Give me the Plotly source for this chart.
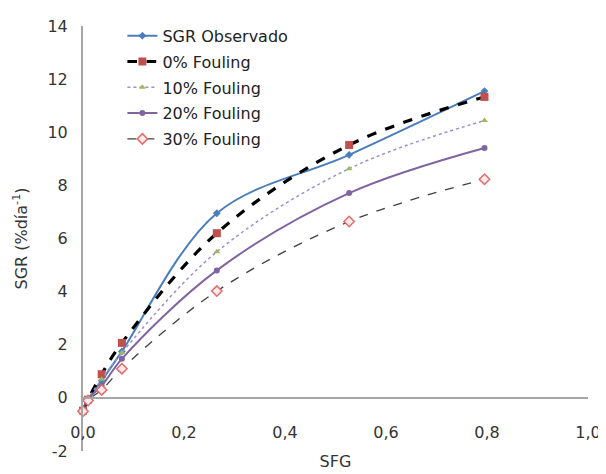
import plotly.graph_objects as go

sfg = [0.0, 0.01, 0.037, 0.077, 0.265, 0.527, 0.795]
sgr_obs = [-0.5, -0.05, 0.65, 1.75, 6.95, 9.15, 11.55]
f0 = [-0.48, -0.07, 0.89, 2.07, 6.2, 9.52, 11.33]
f10 = [-0.5, -0.05, 0.7, 1.7, 5.5, 8.63, 10.44]
f20 = [-0.5, -0.05, 0.45, 1.47, 4.8, 7.71, 9.41]
f30 = [-0.5, -0.1, 0.3, 1.1, 4.02, 6.64, 8.23]

names = ["SGR Observado", "0% Fouling", "10% Fouling", "20% Fouling", "30% Fouling"]
x_ticks = [0.0, 0.2, 0.4, 0.6, 0.8, 1.0]
y_ticks = [-2, 0, 2, 4, 6, 8, 10, 12, 14]
y_ticklabels = ["-2", "0", "2", "4", "6", "8", "10", "12", "14"]

FONT = "DejaVu Sans"
FS = 16

fig = go.Figure()
fig.add_trace(go.Scatter(x=sfg, y=sgr_obs, name=names[0], mode="lines+markers", legendgroup="a",
                         line=dict(color="#4A7EBB", width=2, shape="spline", smoothing=1),
                         marker=dict(symbol="diamond", size=6, color="#4A7EBB")))
fig.add_trace(go.Scatter(x=sfg, y=f0, name=names[1], mode="lines+markers", legendgroup="b",
                         line=dict(color="black", width=3.2, dash="dash", shape="spline", smoothing=1),
                         marker=dict(symbol="square", size=8, color="#C0504D")))
fig.add_trace(go.Scatter(x=sfg, y=f10, name=names[2], mode="lines+markers", legendgroup="c",
                         line=dict(color="#9A8FD0", width=1.5, dash="dot", shape="spline", smoothing=1),
                         marker=dict(symbol="triangle-up", size=6, color="#9BBB59")))
fig.add_trace(go.Scatter(x=sfg, y=f20, name=names[3], mode="lines+markers", legendgroup="d",
                         line=dict(color="#8064A2", width=2, shape="spline", smoothing=1),
                         marker=dict(symbol="circle", size=6, color="#8064A2")))
fig.add_trace(go.Scatter(x=sfg, y=f30, name=names[4], mode="lines+markers", legendgroup="e",
                         line=dict(color="#404040", width=1.3, dash="dash", shape="spline", smoothing=1),
                         marker=dict(symbol="diamond", size=8, color="#FDE9E9",
                                     line=dict(color="#E46C6C", width=1.5))))
fig.update_traces(cliponaxis=False)

# page body has an 8px margin, so the figure is sized 8px smaller and shifted accordingly
fig.update_layout(
    width=598, height=466,
    margin=dict(l=75, r=18, t=11, b=23),
    paper_bgcolor="white", plot_bgcolor="white",
    font=dict(family=FONT, size=FS, color="#333333"),
    showlegend=True,
    legend=dict(x=0.078, y=1.017, xanchor="left", yanchor="top",
                bgcolor="rgba(0,0,0,0)", font=dict(size=FS, color="#222222"),
                tracegroupgap=2, traceorder="grouped"),
    xaxis=dict(range=[0, 1.0], tickvals=x_ticks, tickformat=".1f",
               showgrid=False, zeroline=False, showline=True, linecolor="#A6A6A6", linewidth=2,
               anchor="free", position=0.125, ticks="", ticklabelstandoff=20,
               tickfont=dict(size=FS, color="#333333"),
               title=dict(text="SFG", font=dict(size=FS, color="#333333"), standoff=14),
               automargin=False),
    yaxis=dict(range=[-2, 14], tickvals=y_ticks, ticktext=y_ticklabels,
               showgrid=False, zeroline=False,
               showline=True, linecolor="#A6A6A6", linewidth=2, ticks="",
               ticklabelstandoff=10,
               tickfont=dict(size=FS, color="#333333"),
               title=dict(text="SGR (%día<sup>-1</sup>)", font=dict(size=FS, color="#333333"), standoff=16),
               automargin=False),
    separators=",.",
)

fig.write_html("out.html")
